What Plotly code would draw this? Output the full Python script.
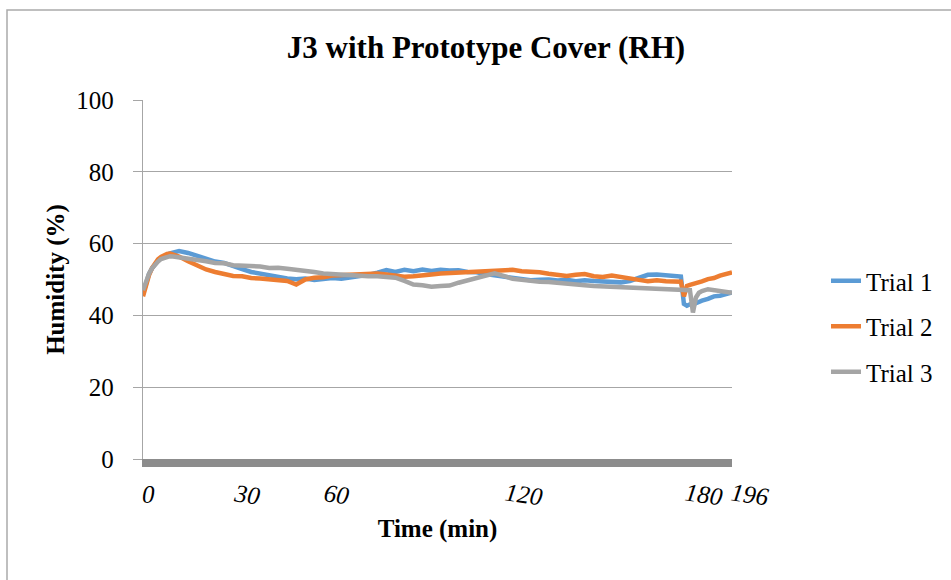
import plotly.graph_objects as go

# ---------------- data ----------------
time_min = [0, 1, 2, 3, 4, 5, 6, 7, 8, 9, 10, 12, 15, 18, 21, 24, 27, 30, 33, 36,
            39, 42, 45, 48, 51, 54, 57, 60, 63, 66, 69, 72, 75, 78, 81, 84, 87, 90, 93, 96,
            99, 102, 105, 108, 111, 114, 117, 120, 123, 126, 129, 132, 135, 138, 141, 144, 147, 150, 153, 156,
            159, 162, 165, 168, 171, 174, 177, 179, 180, 181, 182, 183, 184, 185, 186, 188, 190, 192, 194, 196]

trial1 = [46.0, 49.2, 51.6, 53.1, 54.4, 55.3, 56.0, 56.6, 56.9, 57.3, 57.5, 57.9, 57.4, 56.6, 55.6, 55.0, 54.6, 53.6, 52.9, 52.1,
          51.6, 51.0, 50.8, 50.3, 50.1, 50.3, 49.9, 50.1, 50.4, 50.2, 50.5, 50.7, 51.3, 51.9, 52.6, 52.1, 52.7, 52.3, 52.8, 52.4,
          52.7, 52.5, 52.6, 52.1, 52.0, 51.5, 51.1, 50.9, 50.3, 50.2, 49.8, 49.9, 50.0, 49.7, 49.9, 49.5, 49.8, 49.6, 49.4, 49.5,
          49.2, 49.6, 50.6, 51.3, 51.4, 51.1, 51.0, 50.8, 43.2, 42.7, 43.1, 42.9, 43.4, 43.9, 44.1, 44.6, 45.3, 45.5, 46.1, 46.4]

trial2 = [45.3, 48.6, 51.2, 53.2, 54.7, 55.6, 56.3, 56.8, 57.1, 57.2, 57.0, 56.4, 55.1, 53.9, 52.8, 52.1, 51.6, 51.0, 50.9, 50.4,
          50.3, 50.0, 50.0, 49.6, 48.6, 50.0, 50.5, 50.6, 51.1, 51.2, 51.4, 51.5, 51.3, 51.7, 51.4, 51.0, 50.8, 50.9, 51.3, 51.4,
          51.7, 51.8, 52.1, 52.2, 52.4, 52.3, 52.6, 52.4, 52.7, 52.3, 52.2, 52.0, 51.6, 51.4, 51.0, 51.3, 51.5, 50.9, 50.7, 51.1,
          50.6, 50.1, 49.9, 49.5, 49.8, 49.5, 49.6, 49.4, 45.3, 48.2, 48.5, 48.7, 48.9, 49.3, 49.5, 50.1, 50.4, 51.1, 51.5, 52.0]

trial3 = [47.0, 49.6, 51.6, 53.1, 54.2, 55.0, 55.7, 56.0, 56.3, 56.5, 56.4, 56.2, 55.9, 55.3, 55.1, 54.6, 54.5, 54.0, 53.9, 53.5,
          53.6, 53.2, 53.3, 53.0, 52.8, 52.3, 52.1, 51.7, 51.5, 51.2, 51.2, 51.0, 50.9, 50.9, 50.6, 50.5, 49.6, 48.6, 48.4, 48.0,
          48.2, 48.3, 49.1, 49.8, 50.6, 51.3, 51.7, 51.0, 50.2, 49.9, 49.5, 49.4, 49.3, 49.0, 48.8, 48.7, 48.4, 48.2, 48.1, 48.0,
          47.9, 47.8, 47.7, 47.7, 47.6, 47.5, 47.4, 47.4, 47.3, 47.2, 47.0, 40.8, 45.0, 46.3, 46.8, 47.3, 47.0, 46.9, 46.5, 46.3]

series_names = ["Trial 1", "Trial 2", "Trial 3"]
series_colors = ["#5B9BD5", "#ED7D31", "#A5A5A5"]

x_tick_values = [0, 30, 60, 120, 180, 196]
x_tick_text = ["0", "30", "60", "120", "180", "196"]
y_tick_values = [0, 20, 40, 60, 80, 100]

# ---------------- layout constants ----------------
W, H = 951, 580
ML, MR, MT, MB = 143, 219, 100, 121
PW = W - ML - MR
PH = H - MT - MB


def px_x(p):
    return (p - ML) / PW


def px_y(p):
    return (H - MB - p) / PH


FONT = "Liberation Serif"

fig = go.Figure()
for name, vals, col in zip(series_names, [trial1, trial2, trial3], series_colors):
    fig.add_trace(go.Scatter(
        x=time_min, y=vals, mode="lines", name=name, legendgroup=name,
        line=dict(color=col, width=4.5),
    ))

# italic slanted x labels placed at their time values
for v, t in zip(x_tick_values, x_tick_text):
    fig.add_annotation(
        x=v, xref="x", y=px_y(494), yref="paper",
        text=t, showarrow=False, xanchor="left", yanchor="middle",
        xshift=-3 if v != 196 else -5,
        textangle=0 if v == 0 else 8,
        font=dict(family=FONT, size=25, color="#000000", style="italic"),
    )

# chart-area border (top and left edges visible)
fig.add_shape(type="rect", xref="paper", yref="paper",
              x0=px_x(7), x1=px_x(975), y0=px_y(10), y1=px_y(600),
              line=dict(color="#ABABAB", width=1.5), fillcolor="rgba(0,0,0,0)", layer="below")

fig.update_layout(
    width=W, height=H,
    margin=dict(l=ML, r=MR, t=MT, b=MB, pad=0),
    paper_bgcolor="white", plot_bgcolor="white",
    font=dict(family=FONT, size=25, color="#000000"),
    title=dict(text="<b>J3 with Prototype Cover (RH)</b>", xref="container", yref="container",
               x=486 / W, y=1 - 47 / H, xanchor="center", yanchor="middle",
               font=dict(family=FONT, size=31, color="#000000")),
    showlegend=True,
    legend=dict(x=px_x(826), y=px_y(258), xanchor="left", yanchor="top",
                font=dict(family=FONT, size=25, color="#000000"),
                traceorder="grouped", tracegroupgap=10,
                bgcolor="rgba(0,0,0,0)", borderwidth=0, itemwidth=30),
    xaxis=dict(range=[0, 196], showgrid=False, zeroline=False, showticklabels=False,
               ticks="", showline=True, linecolor="#8C8C8C", linewidth=8,
               title=dict(text="<b>Time (min)</b>", font=dict(family=FONT, size=25), standoff=56)),
    yaxis=dict(range=[0, 100], tickvals=y_tick_values, showgrid=True, gridcolor="#A6A6A6", gridwidth=1.3,
               zeroline=False, showline=True, linecolor="#A6A6A6", linewidth=1.3,
               ticks="outside", ticklen=9, tickcolor="#A6A6A6", tickwidth=1.3,
               ticklabelstandoff=14,
               tickfont=dict(family=FONT, size=25, color="#000000"),
               title=dict(text="<b>Humidity (%)</b>", font=dict(family=FONT, size=25), standoff=4)),
)

fig.write_html("out.html")
